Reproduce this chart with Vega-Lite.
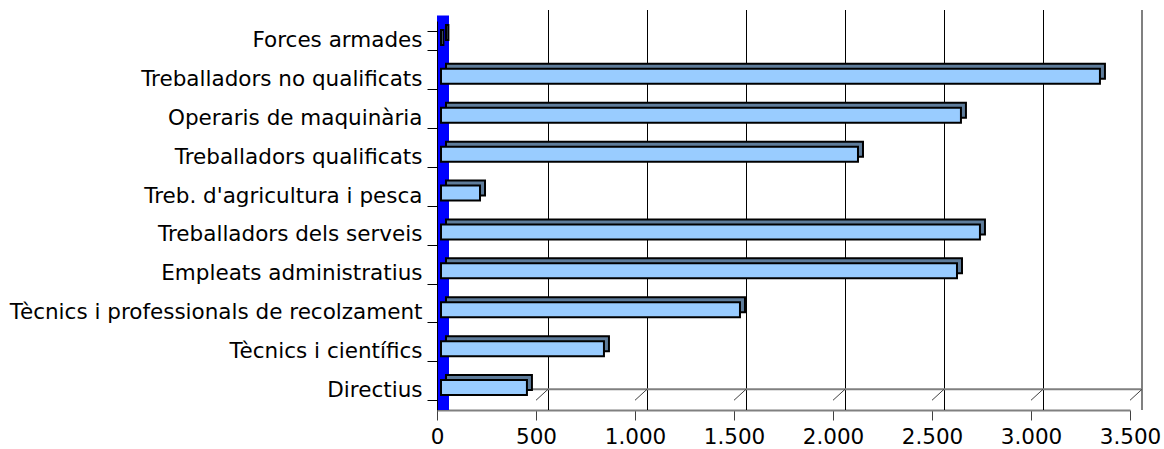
{
  "$schema": "https://vega.github.io/schema/vega-lite/v6.json",
  "width": 693,
  "height": 389,
  "autosize": "none",
  "padding": {"left": 437, "top": 21, "right": 34, "bottom": 39},
  "background": "white",
  "config": {"view": {"stroke": null}, "font": "DejaVu Sans"},
  "datasets": {
    "jobs": [
      {"cat": "Forces armades", "n": 12},
      {"cat": "Treballadors no qualificats", "n": 3328},
      {"cat": "Operaris de maquinària", "n": 2626},
      {"cat": "Treballadors qualificats", "n": 2106},
      {"cat": "Treb. d'agricultura i pesca", "n": 197},
      {"cat": "Treballadors dels serveis", "n": 2722},
      {"cat": "Empleats administratius", "n": 2606},
      {"cat": "Tècnics i professionals de recolzament", "n": 1510},
      {"cat": "Tècnics i científics", "n": 823},
      {"cat": "Directius", "n": 434}
    ],
    "grid": [{"v": 500}, {"v": 1000}, {"v": 1500}, {"v": 2000}, {"v": 2500}, {"v": 3000}],
    "ticks": [{"v": 500}, {"v": 1000}, {"v": 1500}, {"v": 2000}, {"v": 2500}, {"v": 3000}, {"v": 3500}]
  },
  "layer": [
    {
      "data": {"name": "grid"},
      "mark": {"type": "rule", "color": "#000000", "strokeWidth": 1, "xOffset": 12.5, "yOffset": -11, "y2Offset": -11},
      "encoding": {
        "x": {
          "field": "v", "type": "quantitative",
          "scale": {"domain": [0, 3500], "nice": false},
          "axis": {
            "values": [0, 500, 1000, 1500, 2000, 2500, 3000, 3500],
            "labelExpr": "replace(format(datum.value, ','), ',', '.')",
            "title": null, "grid": false,
            "domainColor": "#808080", "domainWidth": 2,
            "tickColor": "#404040", "tickSize": 10, "tickWidth": 1,
            "labelFontSize": 21.5, "labelColor": "#000000", "labelPadding": 6,
            "labelFont": "DejaVu Sans", "labelFlush": false, "labelOverlap": false
          }
        }
      }
    },
    {
      "data": {"values": [{}]},
      "mark": {"type": "rule", "color": "#808080", "strokeWidth": 2, "xOffset": 12, "yOffset": -11, "y2Offset": -11},
      "encoding": {"x": {"datum": 3500, "type": "quantitative"}}
    },
    {
      "data": {"values": [{}]},
      "mark": {"type": "rule", "color": "#808080", "strokeWidth": 2, "xOffset": 12, "x2Offset": 12, "yOffset": -11},
      "encoding": {
        "x": {"datum": 0, "type": "quantitative"},
        "x2": {"datum": 3500},
        "y": {"datum": "Directius", "type": "nominal", "bandPosition": 1}
      }
    },
    {
      "data": {"name": "ticks"},
      "mark": {"type": "rule", "color": "#404040", "strokeWidth": 1, "x2Offset": 12, "y2Offset": -11},
      "encoding": {
        "x": {"field": "v", "type": "quantitative"},
        "x2": {"field": "v"},
        "y": {"datum": "Directius", "type": "nominal", "bandPosition": 1},
        "y2": {"datum": "Directius", "bandPosition": 1}
      }
    },
    {
      "data": {"values": [{}]},
      "mark": {"type": "rule", "color": "#0000FF", "strokeWidth": 12, "xOffset": 6, "yOffset": -5.5, "y2Offset": -5.5},
      "encoding": {"x": {"datum": 0, "type": "quantitative"}}
    },
    {
      "data": {"name": "jobs"},
      "mark": {"type": "bar", "fill": "#5E7C9B", "stroke": "#000000", "strokeWidth": 2, "size": 15, "xOffset": 9, "x2Offset": 9, "yOffset": -8},
      "encoding": {
        "x": {"field": "n", "type": "quantitative"},
        "y": {"field": "cat", "type": "nominal"}
      }
    },
    {
      "data": {"name": "jobs"},
      "mark": {"type": "bar", "fill": "#99CCFF", "stroke": "#000000", "strokeWidth": 2, "size": 15, "xOffset": 4, "x2Offset": 4, "yOffset": -3},
      "encoding": {
        "x": {"field": "n", "type": "quantitative"},
        "y": {
          "field": "cat", "type": "nominal",
          "scale": {
            "domain": ["Forces armades", "Treballadors no qualificats", "Operaris de maquinària", "Treballadors qualificats", "Treb. d'agricultura i pesca", "Treballadors dels serveis", "Empleats administratius", "Tècnics i professionals de recolzament", "Tècnics i científics", "Directius"],
            "paddingInner": 0.5, "paddingOuter": 0.25
          },
          "axis": {
            "title": null, "grid": false, "tickBand": "extent",
            "domainColor": "#000000", "domainWidth": 1,
            "tickColor": "#000000", "tickSize": 10, "tickWidth": 1,
            "labelFontSize": 21.5, "labelColor": "#000000", "labelPadding": 5,
            "labelFont": "DejaVu Sans", "labelLimit": 0, "zindex": 1
          }
        }
      }
    }
  ]
}
